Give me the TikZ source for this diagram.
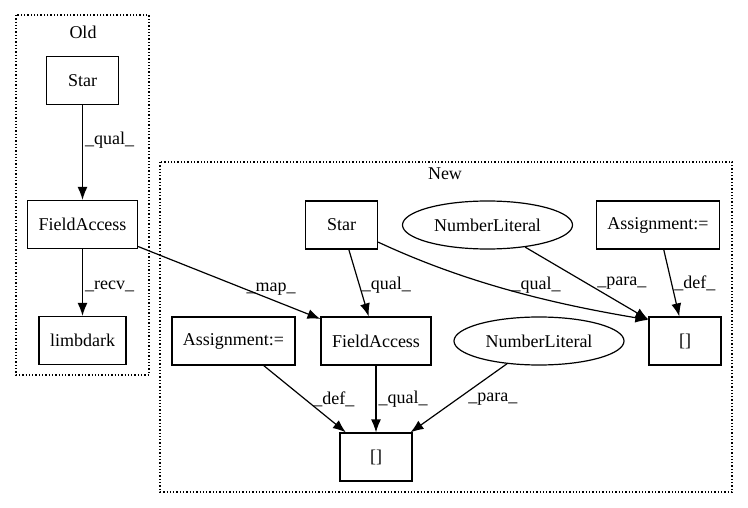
\documentclass[tikz,border=0pt]{standalone}
\usepackage{fontspec}
\setmainfont{Liberation Serif}
\usepackage{tikz}
\usetikzlibrary{arrows.meta}
\usetikzlibrary{shapes.geometric}

\begin{document}
\begin{tikzpicture}[x=1pt,y=-1pt,>={Latex[length=13pt,width=10pt]},line width=1.2pt,
	font=\fontsize{18}{22}\selectfont]
			\tikzstyle{box}=[rectangle,draw,minimum width=72pt,minimum height=48pt,inner xsep=11pt];
			\tikzstyle{lit}=[ellipse,draw,minimum width=170pt,minimum height=48pt,inner sep=0pt];
			\tikzstyle{cluster}=[draw,dotted,line width=1.3pt];
			\tikzstyle{lbl}=[anchor=west,inner sep=2pt];
			\useasboundingbox(0,0)rectangle(748,508);
			% clusters
			\draw[cluster](16,15)rectangle(149,375);
			\draw[cluster](160,162)rectangle(732,492);
			\node(old)at(83,32){Old};
			\node(new)at(445,174){New};
			% old
			\node[box](star1)at(82.5,80.5){Star};
			\node[box](fa1)at(82.5,224.5){FieldAccess};
			\node[box](limb)at(82.5,340.5){limbdark};
			% new
			\node[box](star2)at(341.5,225){Star};
			\node[lit](num1)at(487.5,225){NumberLiteral};
			\node[box](asg1)at(658,225){Assignment:=};
			\node[box](asg2)at(233.5,341){Assignment:=};
			\node[box](fa2)at(376,341){FieldAccess};
			\node[lit](num2)at(539,341){NumberLiteral};
			\node[box](sq1)at(685,341){[]};
			\node[box](sq2)at(376,457){[]};
			% edges
			\draw[->](star1)edge node[lbl,pos=0.37]{\_qual\_}(fa1);
			\draw[->](fa1)edge node[lbl,pos=0.56]{\_recv\_}(limb);
			\draw[->](fa1)edge node[anchor=south,inner sep=3pt,pos=0.73]{\_map\_}(fa2);
			\draw[->](star2)edge node[lbl,pos=0.53]{\_qual\_}(fa2);
			\draw[->](star2)..controls(470,285)and(560,305)..node[above,pos=0.58,inner sep=3pt]{\_qual\_}(sq1.150);
			\draw[->](num1)edge node[lbl,pos=0.5,xshift=8pt]{\_para\_}(sq1);
			\draw[->](asg1)edge node[lbl,pos=0.51]{\_def\_}(sq1);
			\draw[->](asg2)edge node[lbl,pos=0.5,xshift=6pt]{\_def\_}(sq2);
			\draw[->](fa2)edge node[lbl,pos=0.5]{\_qual\_}(sq2);
			\draw[->](num2)edge node[lbl,pos=0.52,xshift=9pt]{\_para\_}(sq2);
		\end{tikzpicture}
\end{document}
